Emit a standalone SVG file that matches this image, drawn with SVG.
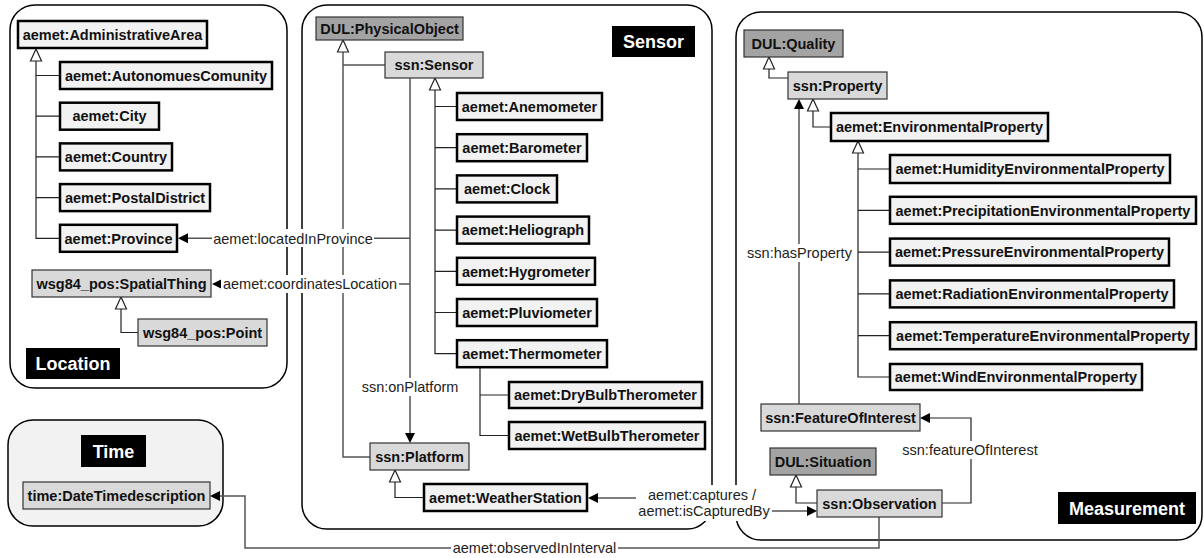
<svg xmlns="http://www.w3.org/2000/svg" width="1204" height="558" viewBox="0 0 1204 558">
<style>
text{font-family:"Liberation Sans",Arial,sans-serif;}
.cont{fill:#fff;stroke:#000;stroke-width:1.5;}
.nb{fill:#f2f2f2;stroke:#000;stroke-width:2.5;}
.nm{fill:#d9d9d9;stroke:#333;stroke-width:1.2;}
.nd{fill:#a3a3a3;stroke:#333;stroke-width:1.2;}
.t{font-size:14.5px;font-weight:bold;fill:#111;text-anchor:middle;}
.lb{fill:#000;}
.lt{font-size:18px;font-weight:bold;fill:#fff;text-anchor:middle;}
.sub{fill:none;stroke:#222;stroke-width:1.2;}
.tri{fill:#fff;stroke:#222;stroke-width:1.2;}
.prop{fill:none;stroke:#555;stroke-width:1.5;}
.ah{fill:#000;stroke:none;}
.el{font-size:14.5px;fill:#222;text-anchor:middle;}
.bg{fill:#fff;}
</style>

<g id="containers">
  <g id="location-box"><rect class="cont" x="10" y="5" width="277" height="383" rx="25"/></g>
  <g id="sensor-box"><rect class="cont" x="302" y="5" width="410" height="524" rx="25"/></g>
  <g id="measurement-box"><rect class="cont" x="736" y="12" width="466" height="528" rx="25"/></g>
  <g id="time-box"><rect class="cont" x="8" y="420" width="215" height="106" rx="25" style="fill:#f2f2f2"/></g>
</g>

<g id="connectors">
  <!-- Location subclass tree -->
  <path class="sub" d="M36 61 V238.3 H60 M36 75.5 H60 M36 116.2 H60 M36 156.9 H60 M36 197.6 H60"/>
  <polygon class="tri" points="36,49 30.5,61 41.5,61"/>
  <path class="sub" d="M121 309 V332.5 H138"/>
  <polygon class="tri" points="121,297 115.5,309 126.5,309"/>

  <!-- Sensor -->
  <path class="prop" d="M343 52 V457 H370 M343 65 H385"/>
  <polygon class="tri" points="343,40 337.5,52 348.5,52"/>
  <path class="sub" d="M435 90 V353.7 H457 M435 106.5 H457 M435 147.7 H457 M435 188.9 H457 M435 230.1 H457 M435 271.3 H457 M435 312.5 H457"/>
  <polygon class="tri" points="435,78 429.5,90 440.5,90"/>
  <path class="sub" d="M480 367 V435.5 H509 M480 395 H509"/>
  <path class="sub" d="M395 482 V497.5 H424"/>
  <polygon class="tri" points="395,470 389.5,482 400.5,482"/>

  <path class="prop" d="M410 78 V435"/>
  <polygon class="ah" points="410,443 405,433 415,433"/>
  <path class="prop" d="M410 238.3 H186"/>
  <polygon class="ah" points="178,238.3 188,233.3 188,243.3"/>
  <path class="prop" d="M410 284 H220"/>
  <polygon class="ah" points="212,284 222,279 222,289"/>

  <!-- Measurement -->
  <path class="sub" d="M769 69 V78 H788"/>
  <polygon class="tri" points="769,57 763.5,69 774.5,69"/>
  <path class="sub" d="M813 111 V127 H831"/>
  <polygon class="tri" points="813,99 807.5,111 818.5,111"/>
  <path class="sub" d="M858 153 V377 H890 M858 169 H890 M858 210.3 H890 M858 252.1 H890 M858 293.9 H890 M858 335.7 H890"/>
  <polygon class="tri" points="858,141 852.5,153 863.5,153"/>
  <path class="prop" d="M799 404 V108"/>
  <polygon class="ah" points="799,99 794,109 804,109"/>
  <path class="sub" d="M796 487 V503 H817"/>
  <polygon class="tri" points="796,475 790.5,487 801.5,487"/>
  <path class="sub" d="M942 503 H971 V418 H928"/>
  <polygon class="ah" points="920,418 930,413 930,423"/>

  <!-- cross-module -->
  <path class="prop" d="M636 498 H596"/>
  <polygon class="ah" points="588,498 598,493 598,503"/>
  <path class="prop" d="M770 511 H809"/>
  <polygon class="ah" points="817,511 807,506 807,516"/>
  <path class="prop" d="M879 517 V548 H245 V496 H218"/>
  <polygon class="ah" points="210,496 220,491 220,501"/>

  <!-- edge labels -->
  <rect class="bg" x="212" y="229" width="162" height="18"/>
  <text class="el" x="293" y="243.5">aemet:locatedInProvince</text>
  <rect class="bg" x="221" y="275" width="178" height="18"/>
  <text class="el" x="310" y="289">aemet:coordinatesLocation</text>
  <rect class="bg" x="360" y="378" width="100" height="18"/>
  <text class="el" x="410" y="392">ssn:onPlatform</text>
  <rect class="bg" x="746" y="244" width="107" height="18"/>
  <text class="el" x="799.5" y="258">ssn:hasProperty</text>
  <rect class="bg" x="901" y="441" width="138" height="18"/>
  <text class="el" x="970" y="455">ssn:featureOfInterest</text>
  <rect class="bg" x="451" y="540" width="167" height="17"/>
  <text class="el" x="534.5" y="553">aemet:observedInInterval</text>
  <rect class="bg" x="636" y="485" width="136" height="36"/>
  <text class="el" x="702" y="500">aemet:captures /</text>
  <text class="el" x="704" y="516">aemet:isCapturedBy</text>
</g>

<g id="location">
  <g id="n-administrativearea"><rect class="nb" x="18" y="21" width="189" height="27"/><text class="t" x="112.5" y="39.7">aemet:AdministrativeArea</text></g>
  <g id="n-autonomuescomunity"><rect class="nb" x="60" y="62" width="212" height="27"/><text class="t" x="166" y="80.7">aemet:AutonomuesComunity</text></g>
  <g id="n-city"><rect class="nb" x="60" y="102.7" width="99" height="27"/><text class="t" x="109.5" y="121.4">aemet:City</text></g>
  <g id="n-country"><rect class="nb" x="60" y="143.4" width="112" height="27"/><text class="t" x="116" y="162.1">aemet:Country</text></g>
  <g id="n-postaldistrict"><rect class="nb" x="60" y="184.1" width="150" height="27"/><text class="t" x="135" y="202.8">aemet:PostalDistrict</text></g>
  <g id="n-province"><rect class="nb" x="60" y="224.8" width="117" height="27"/><text class="t" x="118.5" y="243.5">aemet:Province</text></g>
  <g id="n-spatialthing"><rect class="nm" x="32" y="270" width="179" height="27"/><text class="t" x="121.5" y="288.7">wsg84_pos:SpatialThing</text></g>
  <g id="n-point"><rect class="nm" x="138" y="319" width="129" height="27"/><text class="t" x="202.5" y="337.7">wsg84_pos:Point</text></g>
  <g id="l-location"><rect class="lb" x="26" y="348" width="94" height="31"/><text class="lt" x="73" y="370">Location</text></g>
</g>

<g id="time">
  <g id="l-time"><rect class="lb" x="81" y="435" width="65" height="32"/><text class="lt" x="113.5" y="457.5">Time</text></g>
  <g id="n-datetimedescription"><rect class="nm" x="23" y="482" width="187" height="27"/><text class="t" x="116.5" y="500.7">time:DateTimedescription</text></g>
</g>

<g id="sensor">
  <g id="l-sensor"><rect class="lb" x="612" y="26" width="83" height="31"/><text class="lt" x="653.5" y="48">Sensor</text></g>
  <g id="n-physicalobject"><rect class="nd" x="316" y="17" width="147" height="23"/><text class="t" x="389.5" y="33.7">DUL:PhysicalObject</text></g>
  <g id="n-ssnsensor"><rect class="nm" x="385" y="52" width="98" height="26"/><text class="t" x="434" y="70.2">ssn:Sensor</text></g>
  <g id="n-anemometer"><rect class="nb" x="457" y="93" width="145" height="27"/><text class="t" x="529.5" y="111.7">aemet:Anemometer</text></g>
  <g id="n-barometer"><rect class="nb" x="457" y="134.2" width="130" height="27"/><text class="t" x="522" y="152.9">aemet:Barometer</text></g>
  <g id="n-clock"><rect class="nb" x="457" y="175.4" width="100" height="27"/><text class="t" x="507" y="194.1">aemet:Clock</text></g>
  <g id="n-heliograph"><rect class="nb" x="457" y="216.6" width="132" height="27"/><text class="t" x="523" y="235.3">aemet:Heliograph</text></g>
  <g id="n-hygrometer"><rect class="nb" x="457" y="257.8" width="138" height="27"/><text class="t" x="526" y="276.5">aemet:Hygrometer</text></g>
  <g id="n-pluviometer"><rect class="nb" x="457" y="299" width="140" height="27"/><text class="t" x="527" y="317.7">aemet:Pluviometer</text></g>
  <g id="n-thermometer"><rect class="nb" x="457" y="340.2" width="150" height="27"/><text class="t" x="532" y="358.9">aemet:Thermometer</text></g>
  <g id="n-drybulb"><rect class="nb" x="509" y="382" width="193" height="26"/><text class="t" x="605.5" y="400.2">aemet:DryBulbTherometer</text></g>
  <g id="n-wetbulb"><rect class="nb" x="509" y="422" width="196" height="27"/><text class="t" x="607" y="440.7">aemet:WetBulbTherometer</text></g>
  <g id="n-platform"><rect class="nm" x="370" y="443" width="99" height="27"/><text class="t" x="419.5" y="461.7">ssn:Platform</text></g>
  <g id="n-weatherstation"><rect class="nb" x="424" y="484" width="163" height="27"/><text class="t" x="505.5" y="502.7">aemet:WeatherStation</text></g>
</g>

<g id="measurement">
  <g id="n-quality"><rect class="nd" x="744" y="30" width="99" height="27"/><text class="t" x="793.5" y="48.7">DUL:Quality</text></g>
  <g id="n-property"><rect class="nm" x="788" y="72" width="99" height="27"/><text class="t" x="837.5" y="90.7">ssn:Property</text></g>
  <g id="n-envproperty"><rect class="nb" x="831" y="113" width="217" height="28"/><text class="t" x="939.5" y="132.2">aemet:EnvironmentalProperty</text></g>
  <g id="n-humidity"><rect class="nb" x="890" y="155" width="280" height="28"/><text class="t" x="1030" y="174.2">aemet:HumidityEnvironmentalProperty</text></g>
  <g id="n-precipitation"><rect class="nb" x="890" y="196.8" width="306" height="27"/><text class="t" x="1043" y="215.5">aemet:PrecipitationEnvironmentalProperty</text></g>
  <g id="n-pressure"><rect class="nb" x="890" y="238.6" width="279" height="27"/><text class="t" x="1029.5" y="257.3">aemet:PressureEnvironmentalProperty</text></g>
  <g id="n-radiation"><rect class="nb" x="890" y="280.4" width="284" height="27"/><text class="t" x="1032" y="299.1">aemet:RadiationEnvironmentalProperty</text></g>
  <g id="n-temperature"><rect class="nb" x="890" y="322.2" width="306" height="27"/><text class="t" x="1043" y="340.9">aemet:TemperatureEnvironmentalProperty</text></g>
  <g id="n-wind"><rect class="nb" x="890" y="364" width="252" height="26"/><text class="t" x="1016" y="382.2">aemet:WindEnvironmentalProperty</text></g>
  <g id="n-featureofinterest"><rect class="nm" x="761" y="404" width="159" height="27"/><text class="t" x="840.5" y="422.7">ssn:FeatureOfInterest</text></g>
  <g id="n-situation"><rect class="nd" x="770" y="448" width="106" height="27"/><text class="t" x="823" y="466.7">DUL:Situation</text></g>
  <g id="n-observation"><rect class="nm" x="817" y="490" width="125" height="27"/><text class="t" x="879.5" y="508.7">ssn:Observation</text></g>
  <g id="l-measurement"><rect class="lb" x="1058" y="492" width="138" height="32"/><text class="lt" x="1127" y="514.5">Measurement</text></g>
</g>
</svg>
